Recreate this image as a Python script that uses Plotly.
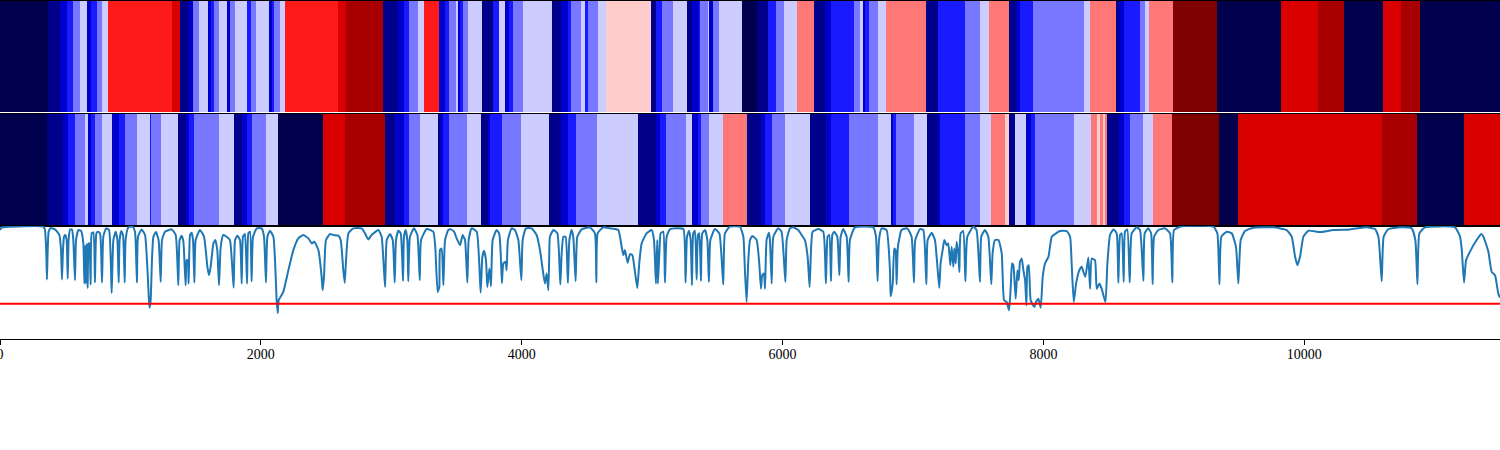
import plotly.graph_objects as go
from plotly.subplots import make_subplots

# 12 colour levels of the state bands
level_colors = ["#00004c", "#00008b", "#0000cc", "#1a1aff", "#7777ff", "#ccccff",
                "#ffcccc", "#ff7777", "#ff1a1a", "#d90000", "#a80000", "#7f0000"]

band1_ends = [365, 457, 514, 560, 613, 667, 698, 744, 782, 828, 1319, 1380, 1449, 1480, 1526, 1595, 1618, 1641, 1679, 1740,
              1763, 1802, 1894, 1924, 1963, 2062, 2085, 2101, 2147, 2185, 2591, 2653, 2936, 3051, 3097, 3136, 3205, 3251, 3366, 3412,
              3442, 3496, 3511, 3527, 3550, 3588, 3695, 3780, 3826, 3872, 3902, 3933, 4009, 4232, 4301, 4354, 4377, 4454, 4485, 4508,
              4584, 4646, 4991, 5029, 5075, 5159, 5267, 5305, 5359, 5366, 5428, 5435, 5466, 5512, 5688, 5803, 5888, 5949, 6010, 6110,
              6240, 6325, 6371, 6547, 6593, 6616, 6631, 6662, 6731, 6792, 7099, 7191, 7398, 7513, 7582, 7736, 7790, 7820, 7920, 8311,
              8357, 8556, 8579, 8618, 8740, 8779, 8809, 8993, 9331, 9821, 10105, 10304, 10603, 10741, 10887, 11500]
band1_levels = [0, 1, 2, 3, 4, 5, 2, 3, 4, 5, 8, 9, 1, 2, 4, 5, 2, 3, 4, 5,
                2, 4, 5, 3, 4, 5, 2, 3, 4, 5, 8, 9, 10, 1, 2, 3, 4, 5, 8, 2,
                3, 4, 5, 2, 3, 4, 5, 1, 3, 5, 2, 3, 4, 5, 1, 2, 3, 4, 5, 3,
                4, 5, 6, 1, 3, 4, 5, 1, 2, 3, 4, 5, 2, 4, 5, 0, 1, 3, 4, 5,
                7, 1, 2, 3, 4, 5, 2, 3, 4, 5, 7, 1, 3, 4, 5, 7, 1, 2, 3, 4,
                5, 7, 1, 2, 3, 4, 5, 7, 11, 0, 9, 10, 0, 9, 10, 0]

band2_ends = [360, 483, 521, 575, 652, 675, 698, 728, 782, 859, 912, 958, 1050, 1150, 1158, 1234, 1365, 1426, 1449, 1487,
              1679, 1794, 1855, 1894, 1932, 2039, 2131, 2476, 2645, 2952, 3028, 3097, 3136, 3220, 3358, 3373, 3396, 3442, 3580, 3688,
              3741, 3757, 3848, 3994, 4209, 4301, 4354, 4416, 4577, 4891, 5029, 5060, 5106, 5259, 5305, 5351, 5374, 5435, 5543, 5727,
              5834, 5865, 5918, 6018, 6210, 6332, 6371, 6509, 6731, 6831, 6846, 6869, 7007, 7107, 7191, 7206, 7398, 7513, 7597, 7705,
              7736, 7782, 7866, 7905, 7935, 8234, 8365, 8411, 8434, 8457, 8472, 8487, 8579, 8618, 8664, 8763, 8840, 8986, 9346, 9492,
              10596, 10864, 11224, 11500]
band2_levels = [0, 1, 2, 3, 4, 5, 2, 3, 4, 5, 2, 3, 4, 5, 3, 4, 5, 1, 2, 3,
                4, 5, 1, 2, 3, 4, 5, 0, 9, 10, 1, 2, 3, 4, 5, 1, 2, 3, 4, 5,
                1, 2, 3, 4, 5, 1, 2, 3, 4, 5, 1, 2, 3, 4, 5, 2, 3, 4, 5, 7,
                1, 2, 3, 4, 5, 1, 2, 3, 4, 5, 2, 3, 4, 5, 1, 2, 3, 4, 5, 7,
                6, 1, 5, 2, 3, 4, 5, 7, 6, 7, 6, 7, 1, 2, 3, 4, 5, 7, 11, 0,
                9, 10, 0, 9]

assert len(band1_ends) == len(band1_levels)
assert len(band2_ends) == len(band2_levels)

trace_x = [0, 13, 77, 332, 345, 355, 360, 365, 373, 388, 422, 455, 468, 475, 483, 491, 501, 511, 519, 526,
           537, 552, 562, 575, 583, 601, 621, 639, 647, 654, 659, 667, 672, 680, 685, 695, 703, 716, 728, 739,
           751, 767, 782, 792, 813, 836, 856, 869, 887, 900, 910, 917, 930, 943, 956, 963, 984, 1017, 1035, 1050,
           1058, 1086, 1112, 1142, 1147, 1155, 1165, 1176, 1196, 1216, 1232, 1242, 1265, 1316, 1347, 1367, 1377, 1393, 1406, 1423,
           1431, 1439, 1446, 1457, 1469, 1480, 1490, 1500, 1533, 1564, 1590, 1602, 1615, 1636, 1651, 1666, 1679, 1692, 1712, 1738,
           1763, 1791, 1802, 1820, 1840, 1853, 1863, 1878, 1894, 1904, 1917, 1929, 1940, 1968, 2006, 2024, 2039, 2050, 2070, 2096,
           2121, 2129, 2136, 2172, 2211, 2249, 2287, 2326, 2364, 2390, 2410, 2441, 2466, 2473, 2484, 2499, 2530, 2556, 2594, 2612,
           2632, 2643, 2653, 2671, 2709, 2773, 2798, 2824, 2849, 2901, 2926, 2952, 2965, 2990, 3011, 3026, 3036, 3054, 3072, 3090,
           3097, 3110, 3123, 3130, 3143, 3174, 3200, 3218, 3228, 3271, 3322, 3337, 3355, 3368, 3373, 3386, 3399, 3412, 3437, 3455,
           3481, 3501, 3527, 3547, 3565, 3583, 3593, 3616, 3655, 3685, 3698, 3711, 3726, 3736, 3752, 3764, 3777, 3807, 3826, 3833,
           3841, 3848, 3859, 3876, 3884, 3894, 3922, 3948, 3974, 3997, 4007, 4032, 4076, 4114, 4140, 4165, 4178, 4191, 4204, 4211,
           4216, 4242, 4273, 4296, 4306, 4319, 4336, 4354, 4365, 4382, 4395, 4413, 4426, 4459, 4523, 4561, 4572, 4582, 4625, 4676,
           4740, 4766, 4779, 4791, 4812, 4830, 4848, 4868, 4886, 4901, 4919, 4957, 4996, 5014, 5029, 5039, 5044, 5055, 5065, 5085,
           5098, 5111, 5136, 5187, 5239, 5256, 5267, 5282, 5295, 5305, 5315, 5328, 5341, 5351, 5361, 5374, 5384, 5405, 5423, 5435,
           5446, 5481, 5515, 5545, 5558, 5596, 5673, 5699, 5711, 5724, 5737, 5750, 5768, 5801, 5821, 5834, 5844, 5857, 5865, 5877,
           5895, 5903, 5916, 5929, 5967, 5992, 6021, 6031, 6056, 6082, 6120, 6146, 6171, 6192, 6207, 6217, 6230, 6274, 6312, 6332,
           6345, 6358, 6371, 6381, 6396, 6419, 6435, 6445, 6465, 6491, 6506, 6516, 6555, 6695, 6716, 6728, 6739, 6759, 6797, 6823,
           6828, 6844, 6856, 6866, 6874, 6884, 6912, 6956, 6989, 7007, 7017, 7053, 7079, 7102, 7112, 7143, 7168, 7201, 7211, 7227,
           7240, 7257, 7270, 7286, 7296, 7309, 7316, 7327, 7334, 7347, 7355, 7365, 7385, 7401, 7416, 7462, 7487, 7513, 7523, 7551,
           7577, 7600, 7610, 7628, 7655, 7680, 7698, 7718, 7736, 7749, 7759, 7769, 7777, 7787, 7800, 7810, 7820, 7833, 7846, 7859,
           7869, 7877, 7887, 7902, 7930, 7943, 7961, 7979, 7994, 8012, 8038, 8063, 8089, 8127, 8178, 8204, 8216, 8232, 8250, 8275,
           8293, 8306, 8321, 8344, 8357, 8370, 8395, 8408, 8429, 8446, 8475, 8490, 8510, 8536, 8561, 8574, 8587, 8600, 8615, 8625,
           8643, 8661, 8676, 8715, 8740, 8766, 8776, 8804, 8825, 8837, 8848, 8881, 8932, 8970, 8988, 9001, 9047, 9303, 9333, 9349,
           9364, 9405, 9443, 9476, 9494, 9512, 9545, 9609, 9763, 9865, 9903, 9929, 9947, 9967, 9993, 10031, 10120, 10223, 10350, 10478,
           10542, 10568, 10593, 10608, 10644, 10734, 10823, 10851, 10867, 10882, 10925, 11155, 11194, 11207, 11224, 11240, 11283, 11321, 11355, 11373,
           11411, 11436, 11462, 11487, 11500]
trace_y = [.964, .988, .994, .994, .964, .756, .524, .756, .949, .982, .970, .920, .786, .524, .786, .905, .920, .875, .533, .875,
           .970, .970, .875, .518, .875, .964, .958, .845, .488, .830, .488, .845, .449, .845, .845, .479, .935, .943, .497, .935,
           .949, .935, .497, .905, .979, .964, .405, .875, .949, .875, .497, .875, .955, .920, .497, .875, .988, .994, .949, .497,
           .905, .970, .920, .339, .274, .339, .696, .905, .946, .875, .503, .875, .949, .970, .920, .473, .875, .914, .860, .473,
           .696, .696, .488, .920, .940, .875, .497, .875, .964, .905, .637, .563, .637, .845, .875, .786, .473, .815, .920, .905,
           .875, .452, .875, .914, .875, .488, .905, .929, .488, .935, .949, .509, .905, .979, .979, .905, .497, .905, .958, .905,
           .339, .226, .339, .414, .607, .786, .890, .920, .890, .845, .860, .786, .548, .429, .548, .875, .929, .920, .914, .875,
           .607, .494, .696, .935, .979, .979, .935, .881, .920, .964, .905, .458, .875, .929, .875, .497, .875, .958, .935, .512,
           .905, .964, .875, .509, .905, .979, .920, .518, .875, .973, .949, .815, .414, .458, .786, .801, .473, .875, .964, .970,
           .949, .890, .830, .920, .875, .497, .875, .979, .949, .408, .726, .780, .696, .458, .622, .464, .875, .964, .935, .875,
           .696, .494, .667, .682, .607, .875, .979, .964, .875, .518, .875, .979, .979, .920, .786, .577, .488, .577, .429, .756,
           .905, .964, .935, .479, .756, .905, .905, .494, .875, .964, .905, .509, .905, .970, .988, .935, .497, .935, .988, .979,
           .964, .815, .741, .786, .673, .750, .741, .592, .449, .667, .845, .935, .964, .875, .488, .875, .488, .756, .935, .949,
           .497, .905, .970, .979, .973, .497, .905, .958, .875, .473, .935, .958, .524, .920, .935, .512, .935, .964, .875, .503,
           .875, .973, .935, .479, .935, .994, .994, .905, .607, .324, .696, .875, .911, .875, .667, .443, .563, .577, .443, .875,
           .940, .875, .488, .905, .979, .949, .503, .875, .979, .988, .964, .920, .875, .726, .458, .756, .949, .973, .949, .488,
           .905, .920, .509, .920, .949, .905, .563, .905, .973, .905, .503, .875, .988, .988, .905, .509, .875, .979, .964, .607,
           .375, .488, .801, .786, .482, .815, .964, .979, .905, .497, .875, .973, .964, .482, .875, .940, .875, .449, .667, .786,
           .875, .830, .845, .652, .815, .637, .801, .667, .860, .756, .592, .935, .955, .509, .905, .994, .964, .503, .905, .964,
           .905, .482, .756, .875, .875, .756, .339, .324, .250, .458, .667, .652, .533, .354, .607, .518, .682, .711, .607, .518,
           .295, .637, .652, .339, .280, .324, .354, .274, .548, .667, .726, .905, .929, .955, .955, .905, .667, .324, .488, .607,
           .637, .592, .548, .720, .443, .711, .696, .443, .488, .443, .324, .667, .920, .970, .935, .494, .920, .935, .503, .949,
           .970, .497, .935, .988, .964, .512, .935, .979, .935, .482, .905, .964, .979, .935, .497, .964, .994, .994, .935, .482,
           .905, .949, .935, .815, .488, .875, .955, .985, .988, .964, .905, .726, .652, .726, .905, .958, .946, .964, .970, .988,
           .973, .905, .509, .905, .973, .988, .979, .875, .482, .935, .988, .988, .905, .786, .497, .696, .801, .875, .929, .905,
           .771, .592, .563, .399, .363]
threshold = 0.308
threshold_x = [0, 11500]
x_ticks = [0, 2000, 4000, 6000, 8000, 10000]

assert len(trace_x) == len(trace_y)

fig = make_subplots(rows=3, cols=1, shared_xaxes=False)

n = len(level_colors)
scale = []
for i, c in enumerate(level_colors):
    scale += [[i / n, c], [(i + 1) / n, c]]

for row, ends, levels in [(1, band1_ends, band1_levels), (2, band2_ends, band2_levels)]:
    fig.add_trace(go.Heatmap(z=[levels], x=[0] + ends, y=[0, 1], zmin=-0.5, zmax=n - 0.5,
                             colorscale=scale, showscale=False, hoverinfo="skip"), row=row, col=1)

fig.add_trace(go.Scatter(x=trace_x, y=trace_y, mode="lines",
                         line=dict(color="#1f77b4", width=2, shape="spline", smoothing=0.45),
                         showlegend=False), row=3, col=1)
fig.add_trace(go.Scatter(x=threshold_x, y=[threshold, threshold], mode="lines",
                         line=dict(color="red", width=2), showlegend=False), row=3, col=1)

H = 450
dom = lambda top, bottom: [1 - bottom / H, 1 - top / H]
common = dict(range=[0, 11500], showgrid=False, zeroline=False, showline=True, linecolor="black", linewidth=1)
fig.update_layout(
    width=1500, height=450, margin=dict(l=0, r=0, t=0, b=0, autoexpand=False),
    paper_bgcolor="white", plot_bgcolor="white", showlegend=False,
    font=dict(family="Liberation Serif", size=14, color="black"),
    xaxis=dict(common, domain=[0, 1], side="top", showticklabels=False, ticks=""),
    xaxis2=dict(common, domain=[0, 1], mirror=True, showticklabels=False, ticks=""),
    xaxis3=dict(common, domain=[0, 1], mirror=True, tickmode="array", tickvals=x_ticks,
                ticktext=[str(t) for t in x_ticks], ticks="outside", ticklen=5, tickwidth=1,
                tickcolor="black", ticklabeloverflow="allow", ticklabelstandoff=-2, automargin=False,
                tickfont=dict(family="Liberation Serif", size=14, color="black")),
    yaxis=dict(domain=dom(0.5, 112), range=[0, 1], showgrid=False, zeroline=False, showticklabels=False, ticks="",
               showline=True, linecolor="black", linewidth=1),
    yaxis2=dict(domain=dom(113.5, 225.5), range=[0, 1], showgrid=False, zeroline=False, showticklabels=False, ticks="",
                showline=True, linecolor="black", linewidth=1),
    yaxis3=dict(domain=dom(226, 338.5), range=[0, 1], showgrid=False, zeroline=False, showticklabels=False, ticks="",
                showline=True, linecolor="black", linewidth=1),
)
fig.write_html("out.html", config=dict(displayModeBar=False),
               post_script="document.body.style.margin='0';document.documentElement.style.overflow='hidden';")
